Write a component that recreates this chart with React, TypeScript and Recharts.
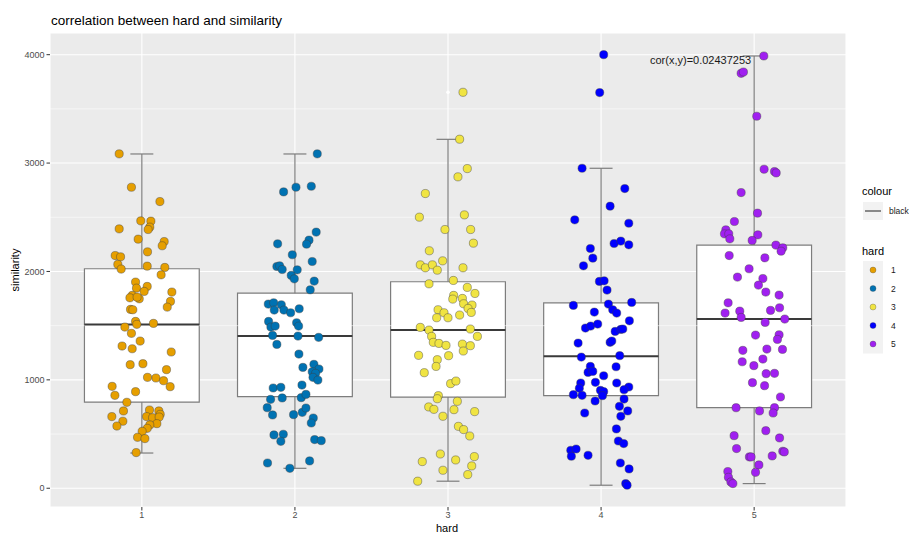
import React from 'react';
import {
  ComposedChart,
  Scatter,
  XAxis,
  YAxis,
  CartesianGrid,
  ReferenceArea,
  ReferenceLine,
  ReferenceDot,
} from 'recharts';

// ---------------- data ----------------
const groups = [1, 2, 3, 4, 5];
const groupLabels = ['1', '2', '3', '4', '5'];
const colors = ['#E69F00', '#0072B2', '#F0E442', '#0000FF', '#A020F0'];
const yTicks = [0, 1000, 2000, 3000, 4000];
const yMinor = [500, 1500, 2500, 3500];

// boxplot statistics
const whiskerLow = [325, 184, 65, 28, 43];
const boxLow = [795, 845, 841, 854, 744];
const boxMedian = [1511, 1404, 1459, 1217, 1561];
const boxHigh = [2025, 1800, 1905, 1711, 2243];
const whiskerHigh = [3084, 3084, 3219, 2952, 3988];
const outliers = [[], [], [3653], [4000, 3650], []];

// jittered points: [x offset from group, similarity]
const pts1 = [
  [-0.148, 3085], [-0.068, 2777], [0.118, 2645], [-0.007, 2467], [0.059, 2464], [-0.148, 2393], [0.052, 2409],
  [0.041, 2387], [-0.024, 2298], [0.146, 2276], [0.133, 2237], [0.037, 2181], [-0.174, 2147], [-0.139, 2135],
  [-0.157, 2065], [-0.135, 2022], [0.035, 2049], [0.15, 2037], [0.126, 1969], [-0.041, 1902], [-0.035, 1846],
  [0.035, 1862], [0.015, 1816], [0.196, 1810], [-0.063, 1779], [-0.078, 1757], [-0.017, 1748], [-0.031, 1763],
  [0.187, 1724], [0.166, 1671], [-0.074, 1650], [-0.059, 1647], [-0.041, 1539], [-0.033, 1512], [0.076, 1521],
  [-0.111, 1487], [-0.068, 1429], [-0.011, 1358], [-0.129, 1312], [-0.063, 1287], [0.192, 1257], [-0.076, 1140],
  [0.007, 1149], [0.161, 1094], [0.037, 1023], [0.092, 1017], [0.142, 992], [-0.194, 940], [0.185, 937],
  [-0.176, 857], [-0.041, 891], [-0.098, 793], [0.05, 722], [0.111, 713], [-0.12, 713], [0.12, 682],
  [-0.196, 661], [0.031, 661], [0.07, 651], [0.113, 657], [-0.124, 618], [0.098, 596], [0.052, 584],
  [-0.163, 574], [0.035, 553], [0.002, 525], [-0.028, 470], [0.02, 458], [-0.037, 329],
];
const pts2 = [
  [0.146, 3085], [0.007, 2777], [0.107, 2786], [-0.074, 2734], [0.139, 2363], [0.092, 2289], [0.076, 2252],
  [-0.113, 2255], [-0.017, 2154], [0.113, 2092], [-0.118, 2046], [-0.1, 2052], [-0.083, 2018], [0.015, 2015],
  [-0.024, 1963], [-0.004, 1932], [0.126, 1911], [0.1, 1831], [-0.174, 1699], [-0.139, 1711], [-0.089, 1693],
  [-0.135, 1644], [-0.072, 1644], [-0.028, 1619], [0.028, 1656], [-0.172, 1539], [-0.157, 1487], [-0.129, 1496],
  [0.011, 1527], [0.024, 1496], [-0.146, 1410], [0.02, 1404], [0.155, 1392], [-0.118, 1327], [0.026, 1238],
  [0.052, 1115], [0.124, 1143], [0.157, 1100], [0.113, 1075], [0.135, 1060], [0.118, 1023], [0.15, 998],
  [-0.142, 925], [-0.092, 931], [0.046, 952], [-0.159, 820], [-0.083, 833], [0.041, 836], [0.072, 866],
  [-0.181, 743], [-0.146, 676], [-0.009, 679], [0.048, 700], [0.072, 740], [0.12, 648], [0.107, 602],
  [-0.137, 492], [-0.076, 498], [-0.092, 433], [0.129, 449], [0.172, 439], [-0.179, 233], [0.096, 252],
  [-0.033, 184],
];
const pts3 = [
  [0.098, 3653], [0.076, 3220], [0.126, 2949], [0.065, 2873], [-0.148, 2719], [-0.187, 2501], [0.107, 2522],
  [-0.02, 2387], [0.148, 2387], [0.166, 2261], [-0.122, 2191], [-0.181, 2061], [-0.148, 2034], [-0.102, 2061],
  [-0.07, 2012], [-0.035, 2098], [0.098, 2034], [-0.124, 1886], [0.035, 1917], [0.126, 1853], [0.176, 1797],
  [0.037, 1779], [0.031, 1745], [0.094, 1751], [0.102, 1702], [0.157, 1690], [0.131, 1659], [0.152, 1622],
  [-0.065, 1647], [-0.026, 1619], [-0.074, 1573], [0.0, 1573], [0.076, 1598], [-0.181, 1484], [-0.124, 1459],
  [-0.107, 1401], [-0.096, 1346], [-0.059, 1336], [-0.013, 1318], [0.146, 1469], [0.192, 1401], [0.094, 1330],
  [0.146, 1315], [0.1, 1266], [-0.192, 1226], [-0.07, 1186], [0.004, 1223], [-0.078, 1124], [-0.155, 1066],
  [0.017, 965], [0.052, 989], [-0.063, 854], [-0.07, 826], [-0.126, 750], [-0.092, 728], [0.061, 802],
  [0.039, 725], [0.174, 707], [-0.033, 664], [0.068, 571], [0.102, 541], [0.142, 482], [-0.05, 316],
  [-0.168, 246], [0.05, 261], [0.172, 292], [0.155, 206], [-0.033, 166], [0.129, 126], [-0.198, 65],
];
const pts4 = [
  [0.017, 4000], [-0.009, 3650], [-0.124, 2952], [0.155, 2765], [0.059, 2602], [-0.172, 2476], [0.181, 2445],
  [0.085, 2258], [0.129, 2280], [0.181, 2246], [-0.07, 2212], [-0.054, 2123], [-0.115, 2052], [-0.011, 1908],
  [0.02, 1914], [0.039, 1828], [-0.181, 1687], [0.048, 1699], [0.2, 1714], [0.076, 1647], [0.102, 1616],
  [-0.044, 1625], [0.185, 1545], [-0.102, 1478], [-0.068, 1496], [-0.022, 1515], [0.092, 1447], [0.129, 1465],
  [0.142, 1469], [-0.15, 1339], [0.059, 1346], [0.07, 1358], [-0.129, 1210], [0.122, 1223], [-0.07, 1124],
  [-0.085, 1069], [-0.054, 1078], [0.017, 1038], [0.098, 1121], [-0.133, 971], [-0.037, 977], [0.102, 971],
  [0.181, 934], [0.15, 909], [-0.142, 922], [-0.004, 903], [0.017, 891], [-0.181, 863], [-0.124, 857],
  [0.009, 854], [0.15, 823], [-0.039, 805], [0.12, 756], [0.174, 713], [-0.107, 694], [0.129, 664],
  [0.1, 547], [0.113, 436], [0.148, 412], [-0.198, 350], [-0.163, 362], [-0.194, 295], [-0.085, 304],
  [0.126, 233], [0.183, 178], [0.161, 43], [0.17, 28],
];
const pts5 = [
  [0.063, 3988], [-0.085, 3828], [-0.07, 3840], [0.017, 3432], [0.065, 2943], [0.133, 2922], [0.144, 2909],
  [-0.085, 2728], [0.022, 2538], [-0.129, 2461], [-0.185, 2384], [-0.194, 2347], [-0.166, 2347], [-0.159, 2301],
  [0.024, 2338], [-0.013, 2286], [0.142, 2243], [0.187, 2218], [0.176, 2187], [-0.163, 2147], [0.07, 2126],
  [-0.033, 2025], [-0.109, 1948], [0.057, 1935], [0.028, 1874], [0.076, 1810], [0.163, 1782], [-0.17, 1711],
  [-0.19, 1616], [-0.094, 1634], [-0.085, 1576], [0.107, 1641], [0.166, 1665], [0.2, 1561], [0.072, 1530],
  [0.009, 1413], [0.163, 1416], [0.152, 1373], [-0.074, 1272], [0.083, 1284], [0.185, 1281], [-0.078, 1167],
  [-0.002, 1131], [0.057, 1192], [0.078, 1057], [0.133, 1060], [-0.011, 974], [0.068, 946], [0.172, 842],
  [-0.118, 743], [0.035, 713], [0.133, 743], [0.124, 694], [0.076, 531], [-0.131, 485], [0.166, 464],
  [-0.115, 366], [0.187, 341], [0.197, 335], [-0.031, 289], [-0.02, 289], [0.118, 298], [0.031, 215],
  [0.009, 147], [-0.172, 154], [-0.168, 101], [-0.152, 58], [-0.139, 43],
];
const allPoints = [pts1, pts2, pts3, pts4, pts5];

const corLabel = 'cor(x,y)=0.02437253';
const corX = 4.65;
const corY = 3950;

// ---------------- styling ----------------
const BOX_HALF = 0.375;
const CAP_HALF = 0.075;
const BOX_STROKE = '#7d7d7d';
const MEDIAN_STROKE = '#3a3a3a';
const FONT = '"Liberation Sans", Arial, sans-serif';

const seriesData = allPoints.map((pts, i) =>
  pts.map(([dx, y]) => ({ x: groups[i] + dx, y }))
);
const outlierData = outliers.map((vals, i) => vals.map((y) => ({ x: groups[i], y })));

const makeDot = (fill: string) => (props: any) => {
  const { cx, cy } = props;
  if (cx == null || cy == null) return <g />;
  return (
    <circle cx={cx} cy={cy} r={4.1} fill={fill} stroke="#3c3c3c" strokeOpacity={0.7} strokeWidth={0.6} />
  );
};
const outlierDot = (props: any) => {
  const { cx, cy } = props;
  if (cx == null || cy == null) return <g />;
  return <circle cx={cx} cy={cy} r={1.8} fill="#ffffff" />;
};

export default function App() {
  const legendRows = [270, 288.5, 307, 325.5, 344];
  return (
    <div
      style={{
        position: 'absolute',
        left: 0,
        top: 0,
        width: 909,
        height: 533,
        background: '#ffffff',
        fontFamily: FONT,
        overflow: 'hidden',
      }}
    >
      <ComposedChart
        width={909}
        height={533}
        margin={{ top: 33, right: 63, bottom: 0, left: 0 }}
      >
        <CartesianGrid fill="#EBEBEB" stroke="#ffffff" strokeWidth={1.1} />
        <XAxis
          type="number"
          dataKey="x"
          domain={[0.4, 5.6]}
          ticks={groups}
          tickFormatter={(v: number) => groupLabels[groups.indexOf(v)] ?? String(v)}
          allowDataOverflow
          axisLine={false}
          tickLine={{ stroke: '#333333' }}
          tickSize={3.5}
          tickMargin={1}
          height={26}
          tick={{ fill: '#4D4D4D', fontSize: 9 }}
        />
        <YAxis
          type="number"
          dataKey="y"
          domain={[-173, 4200]}
          ticks={yTicks}
          allowDataOverflow
          axisLine={false}
          tickLine={{ stroke: '#333333' }}
          tickSize={3.5}
          tickMargin={2}
          width={50}
          tick={{ fill: '#4D4D4D', fontSize: 9 }}
        />
        {yMinor.map((v) => (
          <ReferenceLine key={'m' + v} y={v} stroke="#ffffff" strokeWidth={0.55} />
        ))}
        {groups.map((g, i) => (
          <ReferenceLine
            key={'wh' + g}
            segment={[{ x: g, y: boxHigh[i] }, { x: g, y: whiskerHigh[i] }]}
            stroke={BOX_STROKE}
            strokeWidth={1.2}
          />
        ))}
        {groups.map((g, i) => (
          <ReferenceLine
            key={'wl' + g}
            segment={[{ x: g, y: whiskerLow[i] }, { x: g, y: boxLow[i] }]}
            stroke={BOX_STROKE}
            strokeWidth={1.2}
          />
        ))}
        {groups.map((g, i) => (
          <ReferenceLine
            key={'ch' + g}
            segment={[{ x: g - CAP_HALF, y: whiskerHigh[i] }, { x: g + CAP_HALF, y: whiskerHigh[i] }]}
            stroke={BOX_STROKE}
            strokeWidth={1.2}
          />
        ))}
        {groups.map((g, i) => (
          <ReferenceLine
            key={'cl' + g}
            segment={[{ x: g - CAP_HALF, y: whiskerLow[i] }, { x: g + CAP_HALF, y: whiskerLow[i] }]}
            stroke={BOX_STROKE}
            strokeWidth={1.2}
          />
        ))}
        {groups.map((g, i) => (
          <ReferenceArea
            key={'box' + g}
            x1={g - BOX_HALF}
            x2={g + BOX_HALF}
            y1={boxLow[i]}
            y2={boxHigh[i]}
            fill="#ffffff"
            fillOpacity={1}
            stroke={BOX_STROKE}
            strokeWidth={1.2}
            strokeOpacity={1}
          />
        ))}
        {groups.map((g, i) => (
          <ReferenceLine
            key={'med' + g}
            segment={[{ x: g - BOX_HALF, y: boxMedian[i] }, { x: g + BOX_HALF, y: boxMedian[i] }]}
            stroke={MEDIAN_STROKE}
            strokeWidth={2}
          />
        ))}
        {outlierData.map((d, i) => (
          <Scatter key={'out' + i} data={d} dataKey="y" shape={outlierDot} isAnimationActive={false} />
        ))}
        {seriesData.map((d, i) => (
          <Scatter
            key={'s' + i}
            name={groupLabels[i]}
            data={d}
            dataKey="y"
            fill={colors[i]}
            shape={makeDot(colors[i])}
            isAnimationActive={false}
          />
        ))}
        <ReferenceDot
          x={corX}
          y={corY}
          r={0}
          fill="none"
          stroke="none"
          label={{ value: corLabel, position: 'center', fill: '#1a1a1a', fontSize: 11 }}
        />
      </ComposedChart>

      <svg
        width={909}
        height={533}
        style={{ position: 'absolute', left: 0, top: 0, pointerEvents: 'none', fontFamily: FONT }}
      >
        <text x={51} y={25} fontSize={13.5} fill="#000000">
          correlation between hard and similarity
        </text>
        <text transform="translate(19,270) rotate(-90)" textAnchor="middle" fontSize={11} fill="#000000">
          similarity
        </text>
        <text x={447} y={532} textAnchor="middle" fontSize={11} fill="#000000">
          hard
        </text>

        <text x={862} y={195} fontSize={11} fill="#000000">colour</text>
        <rect x={863} y={202} width={20} height={18} fill="#F2F2F2" />
        <line x1={865} x2={881} y1={211} y2={211} stroke="#333333" strokeWidth={1.1} />
        <text x={889} y={214} fontSize={8.5} fill="#1a1a1a">black</text>

        <text x={862} y={255} fontSize={11} fill="#000000">hard</text>
        <rect x={863} y={261} width={20} height={92.5} fill="#F2F2F2" />
        {legendRows.map((cy, i) => (
          <g key={'lg' + i}>
            <circle cx={873} cy={cy} r={3} fill={colors[i]} stroke="#3c3c3c" strokeOpacity={0.6} strokeWidth={0.5} />
            <text x={891} y={cy + 3} fontSize={8.5} fill="#1a1a1a">
              {groupLabels[i]}
            </text>
          </g>
        ))}
      </svg>
    </div>
  );
}
